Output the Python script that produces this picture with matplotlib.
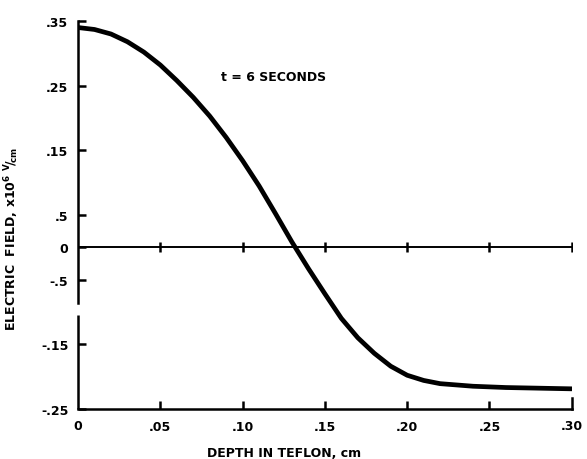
import matplotlib
matplotlib.use('Agg')
import matplotlib.pyplot as plt

# curve (depth in cm, field x10^6 V/cm)
depth = [0.000, 0.010, 0.020, 0.030, 0.040, 0.050, 0.060, 0.070, 0.080, 0.090,
         0.100, 0.110, 0.120, 0.130, 0.140, 0.150, 0.160, 0.170, 0.180, 0.190,
         0.200, 0.210, 0.220, 0.240, 0.260, 0.280, 0.300]
field = [0.340, 0.337, 0.330, 0.318, 0.302, 0.282, 0.258, 0.232, 0.203, 0.170,
         0.134, 0.095, 0.052, 0.008, -0.033, -0.072, -0.110, -0.140, -0.164, -0.184,
         -0.198, -0.206, -0.211, -0.215, -0.217, -0.218, -0.219]

xticks = [0, 0.05, 0.10, 0.15, 0.20, 0.25, 0.30]
xlabels = ['0', '.05', '.10', '.15', '.20', '.25', '.30']
yticks = [0.35, 0.25, 0.15, 0.05, 0, -0.05, -0.15, -0.25]
ylabels = ['.35', '.25', '.15', '.5', '0', '-.5', '-.15', '-.25']
zero_marks = [0.05, 0.10, 0.15, 0.20, 0.25, 0.30]

plt.rcParams['font.family'] = ['DejaVu Sans']
plt.rcParams['font.weight'] = 'bold'

fig = plt.figure(figsize=(5.87, 4.6), dpi=100)
ax = fig.add_axes([0.133, 0.109, 0.841, 0.843])

ax.plot(depth, field, color='black', lw=3.4, solid_capstyle='round',
        solid_joinstyle='round')
ax.axhline(0, color='black', lw=1.4)
ax.plot(zero_marks, [0] * len(zero_marks), ls='none', marker='|',
        ms=7, mew=1.8, color='black')

ax.set_xlim(0, 0.30)
ax.set_ylim(-0.25, 0.35)
ax.spines['top'].set_visible(False)
ax.spines['right'].set_visible(False)
for s in ['left', 'bottom']:
    ax.spines[s].set_linewidth(1.8)
# broken y axis between -.05 and -.15
ax.spines['left'].set_bounds(-0.086, 0.35)
ax.plot([0, 0], [-0.25, -0.104], color='black', lw=1.8, clip_on=False,
        solid_capstyle='butt')
# small upward tick at right end of bottom axis
ax.plot([0.30, 0.30], [-0.25, -0.233], color='black', lw=1.8, clip_on=False)

ax.set_xticks(xticks[1:-1])
ax.set_xticklabels(xlabels[1:-1])
ax.set_yticks(yticks)
ax.set_yticklabels(ylabels)
ax.tick_params(axis='both', direction='in', length=6, width=1.8,
               labelsize=9)
ax.tick_params(axis='y', pad=7)
ax.tick_params(axis='x', pad=8)
# corner labels
ax.text(xticks[0], -0.265, xlabels[0], ha='center', va='top',
        fontsize=9, fontweight='bold')
ax.text(xticks[-1], -0.265, xlabels[-1], ha='center', va='top',
        fontsize=9, fontweight='bold')

ax.set_xlabel('DEPTH IN TEFLON, cm', fontsize=9, fontweight='bold')
ax.xaxis.set_label_coords(0.417, -0.095)
ax.set_ylabel(r'ELECTRIC  FIELD, x10$^{\mathbf{6}}$ $^{\mathbf{V}}\!/\!_{\mathbf{cm}}$',
              fontsize=9, fontweight='bold')
ax.yaxis.set_label_coords(-0.115, 0.44)

ax.text(0.087, 0.264, 't = 6 SECONDS', fontsize=9, fontweight='bold',
        ha='left', va='center')

fig.savefig('out.png', dpi=100)
